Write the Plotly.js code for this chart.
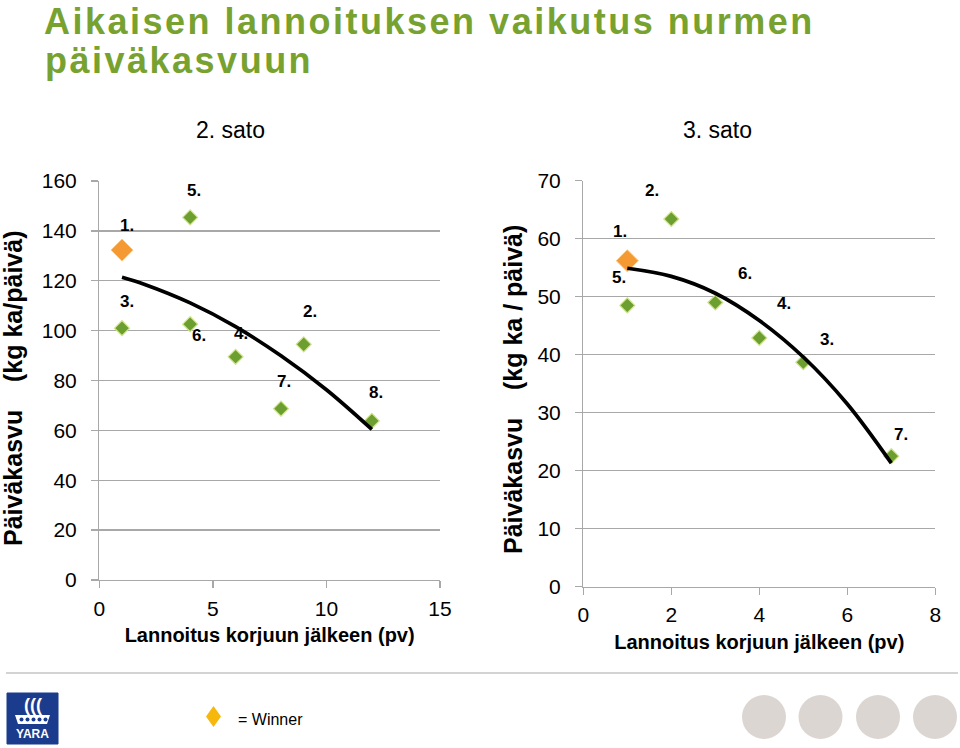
<!DOCTYPE html>
<html>
<head>
<meta charset="utf-8">
<script src="https://cdn.plot.ly/plotly-3.0.1.min.js"></script>
<style>
  html, body { margin: 0; padding: 0; background: #fff; }
  #chart { width: 960px; height: 748px; }
  text[data-unformatted^="Aikaisen"], text[data-unformatted="päiväkasvuun"] { letter-spacing: 2.5px; }
</style>
</head>
<body>
<div id="chart"></div>
<script>
// ---------------- DATA ----------------
// 2. sato
const sato2Labels = ["1.", "2.", "3.", "4.", "5.", "6.", "7.", "8."];
const sato2X = [1, 9, 1, 6, 4, 4, 8, 12];
const sato2Y = [132.3, 94.5, 101, 89.5, 145.4, 102.6, 68.7, 63.8];
const sato2Winner = 0;
const sato2TrendX = [1, 2, 4, 6, 8, 10, 12];
const sato2TrendY = [121.4, 118.5, 111.1, 101.6, 89.9, 76.3, 60.4];

// 3. sato
const sato3Labels = ["1.", "2.", "3.", "4.", "5.", "6.", "7."];
const sato3X = [1, 2, 5, 4, 1, 3, 7];
const sato3Y = [56.2, 63.4, 38.7, 42.9, 48.5, 49.0, 22.5];
const sato3Winner = 0;
const sato3TrendX = [1, 2, 3, 4, 5, 6, 7];
const sato3TrendY = [54.9, 53.5, 50.6, 45.9, 39.6, 31.5, 21.3];

const sato2XTicks = [0, 5, 10, 15];
const sato2YTicks = [0, 20, 40, 60, 80, 100, 120, 140, 160];
const sato3XTicks = [0, 2, 4, 6, 8];
const sato3YTicks = [0, 10, 20, 30, 40, 50, 60, 70];

const titleLine1 = "Aikaisen lannoituksen vaikutus nurmen";
const titleLine2 = "päiväkasvuun";
const panel2Title = "2. sato";
const panel3Title = "3. sato";
const xTitle = "Lannoitus korjuun jälkeen (pv)";
const yTitle2 = "Päiväkasvu\u00a0\u00a0\u00a0 (kg ka/päivä)";
const yTitle3 = "Päiväkasvu\u00a0\u00a0\u00a0 (kg ka / päivä)";
const winnerText = "= Winner";

// ---------------- STYLE ----------------
const W = 960, H = 748;
const px = v => v / W;
const py = v => 1 - v / H;
const FONT = "Liberation Sans, Arial, sans-serif";
const NARROW = "Liberation Sans Narrow, Liberation Sans, Arial, sans-serif";
const GREEN = "#6d9e30";
const GREEN_EDGE = "#cfe48a";
const ORANGE = "#f59a32";
const GRID = "#a8a8a8";

// label offsets (pixels, dx right, dy up)
const sato2LabelOff = [[5, 25], [6, 33], [5, 27], [5, 23], [4, 27], [9, -11], [3, 27], [4, 28]];
const sato3LabelOff = [[-7, 29], [-19, 28], [24, 23], [25, 34], [-8, 28], [30, 29], [10, 22]];

function split(xs, ys, win) {
  const g = {x: [], y: []}, o = {x: [], y: []};
  xs.forEach((x, i) => { const t = (i === win) ? o : g; t.x.push(x); t.y.push(ys[i]); });
  return [g, o];
}
const [s2g, s2o] = split(sato2X, sato2Y, sato2Winner);
const [s3g, s3o] = split(sato3X, sato3Y, sato3Winner);

const greenMarker = {symbol: "diamond", size: 11.5, color: GREEN, line: {color: GREEN_EDGE, width: 1.2}};
const orangeMarker = {symbol: "diamond", size: 17, color: ORANGE, line: {color: "#fbc98a", width: 1}};
const trendLine = {color: "#000", width: 3.7, shape: "spline", smoothing: 1};

const traces = [
  {x: s2g.x, y: s2g.y, xaxis: "x", yaxis: "y", mode: "markers", type: "scatter", marker: greenMarker, hoverinfo: "x+y"},
  {x: s2o.x, y: s2o.y, xaxis: "x", yaxis: "y", mode: "markers", type: "scatter", marker: orangeMarker, hoverinfo: "x+y"},
  {x: sato2TrendX, y: sato2TrendY, xaxis: "x", yaxis: "y", mode: "lines", type: "scatter", line: trendLine, hoverinfo: "skip"},
  {x: s3g.x, y: s3g.y, xaxis: "x2", yaxis: "y2", mode: "markers", type: "scatter", marker: greenMarker, hoverinfo: "x+y"},
  {x: s3o.x, y: s3o.y, xaxis: "x2", yaxis: "y2", mode: "markers", type: "scatter", marker: orangeMarker, hoverinfo: "x+y"},
  {x: sato3TrendX, y: sato3TrendY, xaxis: "x2", yaxis: "y2", mode: "lines", type: "scatter", line: trendLine, hoverinfo: "skip"}
];

const tickFont = {family: FONT, size: 21, color: "#000"};
const axTitleFont = {family: FONT, size: 20, color: "#000", weight: "bold"};

function xAxis(domain, range, ticks, anchor) {
  return {
    domain, range, tickvals: ticks, ticktext: ticks.map(String), anchor,
    showgrid: false, zeroline: false, showline: true, linecolor: GRID, linewidth: 1.3,
    ticks: "outside", ticklen: 7, tickcolor: GRID, tickwidth: 1.3,
    tickfont: tickFont, ticklabelstandoff: 2,
    title: {text: xTitle, font: axTitleFont, standoff: 9},
    fixedrange: true
  };
}
function yAxis(domain, range, ticks, anchor) {
  return {
    domain, range, tickvals: ticks, ticktext: ticks.map(String), anchor,
    showgrid: true, gridcolor: GRID, gridwidth: 1.3, zeroline: false,
    showline: true, linecolor: GRID, linewidth: 1.3,
    ticks: "outside", ticklen: 7, tickcolor: GRID, tickwidth: 1.3,
    tickfont: tickFont, ticklabelstandoff: 10,
    fixedrange: true
  };
}

const labelFont = {family: FONT, size: 17, color: "#000", weight: "bold"};
const annotations = [];
sato2Labels.forEach((t, i) => annotations.push({
  xref: "x", yref: "y", x: sato2X[i], y: sato2Y[i], text: t, showarrow: false,
  xshift: sato2LabelOff[i][0], yshift: sato2LabelOff[i][1], font: labelFont
}));
sato3Labels.forEach((t, i) => annotations.push({
  xref: "x2", yref: "y2", x: sato3X[i], y: sato3Y[i], text: t, showarrow: false,
  xshift: sato3LabelOff[i][0], yshift: sato3LabelOff[i][1], font: labelFont
}));
const yTitleFont = {family: FONT, size: 25, color: "#000", weight: "bold"};
annotations.push(
  {xref: "paper", yref: "paper", x: px(43), y: 1, xanchor: "left", yanchor: "top", borderpad: 0, text: titleLine1, showarrow: false,
   font: {family: FONT, size: 36, color: "#78a22f", weight: "bold"}},
  {xref: "paper", yref: "paper", x: px(43), y: py(61), xanchor: "left", yanchor: "middle", text: titleLine2, showarrow: false,
   font: {family: FONT, size: 36, color: "#78a22f", weight: "bold"}},
  {xref: "paper", yref: "paper", x: px(230), y: py(130), xanchor: "center", yanchor: "middle", text: panel2Title, showarrow: false,
   font: {family: NARROW, size: 23, color: "#000"}},
  {xref: "paper", yref: "paper", x: px(717), y: py(130), xanchor: "center", yanchor: "middle", text: panel3Title, showarrow: false,
   font: {family: NARROW, size: 23, color: "#000"}},
  {xref: "paper", yref: "paper", x: px(13), y: py(389), xanchor: "center", yanchor: "middle", textangle: -90, text: yTitle2, showarrow: false,
   font: yTitleFont},
  {xref: "paper", yref: "paper", x: px(513), y: py(390), xanchor: "center", yanchor: "middle", textangle: -90, text: yTitle3, showarrow: false,
   font: yTitleFont},
  {xref: "paper", yref: "paper", x: px(236), y: py(719), xanchor: "left", yanchor: "middle", text: winnerText, showarrow: false,
   font: {family: NARROW, size: 16, color: "#000"}},
  {xref: "paper", yref: "paper", x: px(32.5), y: py(734), xanchor: "center", yanchor: "middle", text: "YARA", showarrow: false,
   font: {family: FONT, size: 12, color: "#fff", weight: "bold"}},
  {xref: "paper", yref: "paper", x: px(32.5), y: py(705), xanchor: "center", yanchor: "middle", text: "(((", showarrow: false,
   font: {family: FONT, size: 18, color: "#fff", weight: "bold"}}
);

const shapes = [
  // separator line
  {type: "line", xref: "paper", yref: "paper", x0: px(6), x1: px(958), y0: py(673), y1: py(673), line: {color: "#c4c4c4", width: 1.5}},
  // logo box
  {type: "rect", xref: "paper", yref: "paper", x0: px(7), x1: px(58), y0: py(744), y1: py(693), fillcolor: "#1b3c8c", line: {color: "#1b3c8c", width: 1}},
  // logo hull
  {type: "path", xref: "paper", yref: "paper",
   path: `M ${px(15)} ${py(715)} L ${px(50)} ${py(715)} L ${px(47)} ${py(724)} L ${px(18)} ${py(724)} Z`,
   fillcolor: "#fff", line: {width: 0}},
  // winner diamond
  {type: "path", xref: "paper", yref: "paper",
   path: `M ${px(213.5)} ${py(706)} L ${px(221)} ${py(716.5)} L ${px(213.5)} ${py(727)} L ${px(206)} ${py(716.5)} Z`,
   fillcolor: "#f6b80c", line: {width: 0}}
];
[21.5, 27.5, 33.5, 39.5, 45.5].forEach(cx => shapes.push({type: "circle", xref: "paper", yref: "paper",
  x0: px(cx - 2), x1: px(cx + 2), y0: py(721.5), y1: py(717.5), fillcolor: "#1b3c8c", line: {width: 0}}));
[764, 820.5, 878, 935].forEach(cx => shapes.push({type: "circle", xref: "paper", yref: "paper",
  x0: px(cx - 22), x1: px(cx + 22), y0: py(739), y1: py(695), fillcolor: "#dcd6d3", line: {width: 0}}));

const layout = {
  width: W, height: H,
  margin: {l: 0, r: 0, t: 0, b: 0},
  paper_bgcolor: "#fff", plot_bgcolor: "#fff",
  showlegend: false,
  font: {family: FONT, color: "#000"},
  xaxis: xAxis([px(99.3), px(440)], [0, 15], sato2XTicks, "y"),
  yaxis: yAxis([py(580), py(181)], [0, 160], sato2YTicks, "x"),
  xaxis2: xAxis([px(583.3), px(935.3)], [0, 8], sato3XTicks, "y2"),
  yaxis2: yAxis([py(586.7), py(180.7)], [0, 70], sato3YTicks, "x2"),
  annotations, shapes
};

Plotly.newPlot("chart", traces, layout, {displayModeBar: false, staticPlot: true});
</script>
</body>
</html>
